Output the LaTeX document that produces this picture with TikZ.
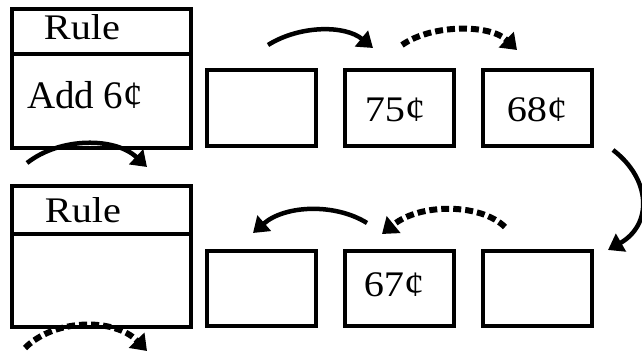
\documentclass[tikz,border=0pt]{standalone}
\usepackage{fontspec}
\usepackage{graphicx}
\setmainfont{Liberation Serif}
\usetikzlibrary{arrows.meta}
\begin{document}
\begin{tikzpicture}[x=1pt,y=-1pt,
  boxstyle/.style={draw=black,line width=4pt,rectangle,inner sep=0pt,minimum width=109pt,minimum height=76pt},
  rulehead/.style={draw=black,line width=4pt,rectangle,inner sep=0pt,minimum width=179pt},
  lbl/.style={anchor=base,inner sep=0pt,font=\fontsize{36}{40}\selectfont},
  solidarrow/.style={line width=4.5pt,-{Triangle[length=15pt,width=20pt]}},
  dasharrow/.style={line width=6pt,dash pattern=on 8pt off 4pt,-{Triangle[length=15pt,width=21pt]}}]
\useasboundingbox (0,0) rectangle (642,352);
\fill[white] (0,0) rectangle (642,352);
% top row
\node[rulehead,minimum height=45pt] (h1) at (101.5,31.5) {};
\node[rulehead,minimum height=94pt] (b1) at (101.5,101) {};
\node[boxstyle] (t2) at (261.5,108) {};
\node[boxstyle] (t3) at (399.5,108) {};
\node[boxstyle] (t4) at (537.5,108) {};
% bottom row
\node[rulehead,minimum height=48pt] (h2) at (101.5,210) {};
\node[rulehead,minimum height=93pt] (b2) at (101.5,280.5) {};
\node[boxstyle,minimum height=75pt] (s2) at (261.5,288.5) {};
\node[boxstyle,minimum height=75pt] (s3) at (399.5,288.5) {};
\node[boxstyle,minimum height=75pt] (s4) at (537.5,288.5) {};
% labels
\node[lbl] (r1) at (82,40) {\scalebox{1.12}[1]{Rule}};
\node[lbl,font=\fontsize{39}{42}\selectfont] (add) at (85,109) {Add 6¢};
\node[lbl] (p75) at (395,122) {\scalebox{1.12}[1]{75¢}};
\node[lbl] (p68) at (537,122) {\scalebox{1.12}[1]{68¢}};
\node[lbl] (r2) at (83,223) {\scalebox{1.12}[1]{Rule}};
\node[lbl] (p67) at (394,297) {\scalebox{1.12}[1]{67¢}};
% arrow end points
\coordinate (a1s) at (27,163); \coordinate (a1e) at (147,167);
\coordinate (a2s) at (268,45); \coordinate (a2e) at (373,48);
\coordinate (a3s) at (402,45); \coordinate (a3e) at (517,50);
\coordinate (a4s) at (613,150); \coordinate (a4e) at (608,250);
\coordinate (a5s) at (505,227); \coordinate (a5e) at (382,234);
\coordinate (a6s) at (367,223); \coordinate (a6e) at (253,233);
\coordinate (a7s) at (25,348); \coordinate (a7e) at (147,351);
% arrows
\draw[solidarrow] (a1s) .. controls (60,137) and (115,137) .. (a1e);
\draw[solidarrow] (a2s) .. controls (300,25) and (345,25) .. (a2e);
\draw[dasharrow] (a3s) .. controls (432,24) and (490,24) .. (a3e);
\draw[solidarrow] (a4s) .. controls (652,180) and (652,225) .. (a4e);
\draw[dasharrow] (a5s) .. controls (480,203) and (420,203) .. (a5e);
\draw[solidarrow] (a6s) .. controls (335,203) and (285,205) .. (a6e);
\draw[dasharrow] (a7s) .. controls (55,318) and (115,318) .. (a7e);
\end{tikzpicture}
\end{document}
